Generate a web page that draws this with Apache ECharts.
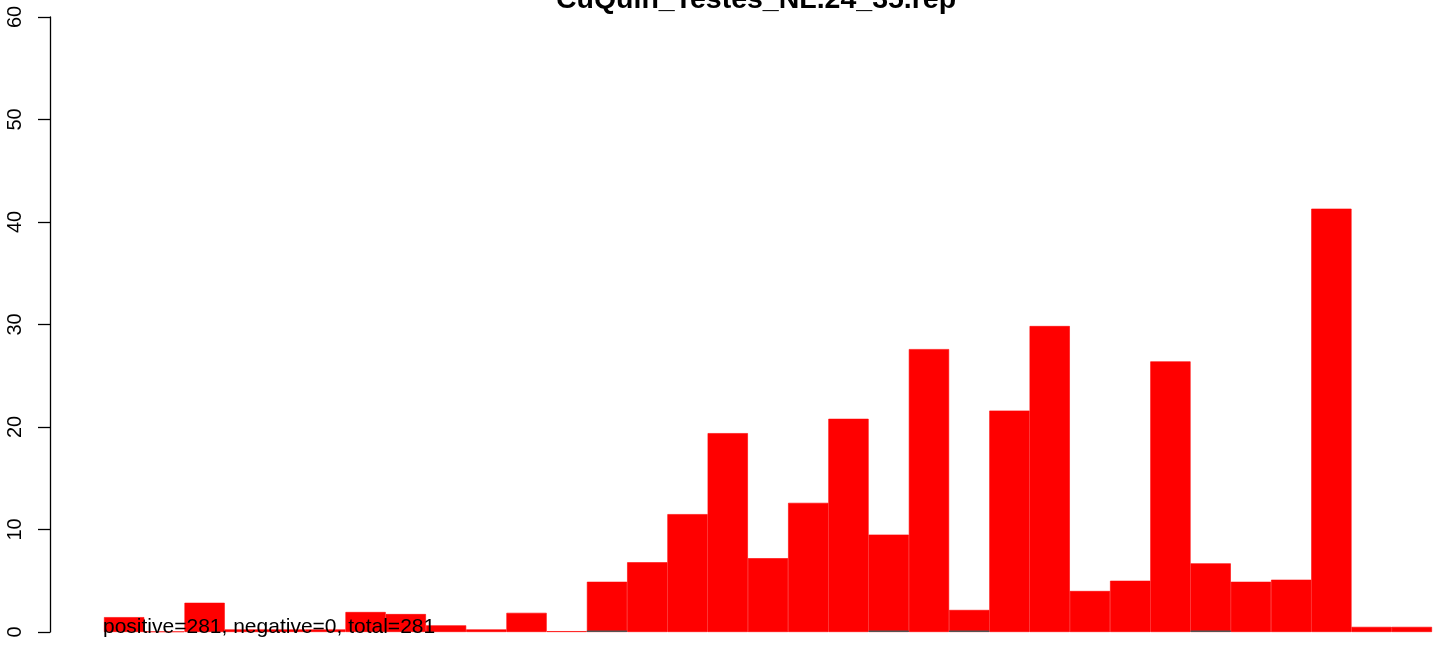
<!DOCTYPE html>
<html><head><meta charset="utf-8">
<script src="https://cdn.jsdelivr.net/npm/echarts@6/dist/echarts.min.js"></script>
<style>html,body{margin:0;padding:0;background:#fff}#c{width:1444px;height:645px}</style>
</head><body><div id="c"></div>
<script>
const categories = ['1','2','3','4','5','6','7','8','9','10','11','12','13','14','15','16','17','18','19','20','21','22','23','24','25','26','27','28','29','30','31','32','33'];
const positiveValues = [1.45,0.05,2.85,0.25,0.25,0.25,1.95,1.75,0.65,0.25,1.87,0.08,4.9,6.8,11.5,19.4,7.2,12.6,20.8,9.5,27.6,2.15,21.6,29.85,4.0,5.0,26.4,6.7,4.9,5.1,41.3,0.5,0.5];
const grayValues = [0,0,0,0,0,0,0,0,0,0,0,0,0.15,0,0,0,0,0,0,0.15,0,0.15,0,0,0,0,0,0.15,0,0,0,0,0];
const yTicks = [0,10,20,30,40,50,60];
const titleText = 'CuQuin_Testes_NL.24_35.rep';
const noteText = 'positive=281, negative=0, total=281';

const chart = echarts.init(document.getElementById('c'));
chart.setOption({
  animation:false,
  backgroundColor:'#fff',
  title:{text:titleText,left:751,top:-19,textAlign:'center',
    textStyle:{fontFamily:'Liberation Sans',fontWeight:'bold',fontSize:28.5,color:'#000'}},
  grid:{left:104,right:12,top:17,bottom:13},
  xAxis:{type:'category',data:categories,show:false,boundaryGap:true},
  yAxis:{type:'value',min:yTicks[0],max:yTicks[yTicks.length-1],interval:10,offset:54,
    axisLine:{show:true,lineStyle:{color:'#000',width:1.3}},
    axisTick:{show:true,length:12,lineStyle:{color:'#000',width:1.3}},
    splitLine:{show:false},
    axisLabel:{rotate:90,margin:25,fontFamily:'Liberation Sans',fontSize:20,color:'#000'}},
  series:[
    {type:'bar',data:positiveValues,barWidth:'100%',barCategoryGap:'0%',barGap:'-100%',
      itemStyle:{color:'#ff0000',borderWidth:0.6,borderColor:'#ff0000'},z:2},
    {type:'bar',data:grayValues,barWidth:'100%',barGap:'-100%',
      itemStyle:{color:'#555555'},z:3}
  ],
  graphic:[{type:'text',left:103,top:617,z:10,
    style:{text:noteText,fontFamily:'Liberation Sans',fontSize:21,fill:'#000'}}]
});
</script></body></html>
